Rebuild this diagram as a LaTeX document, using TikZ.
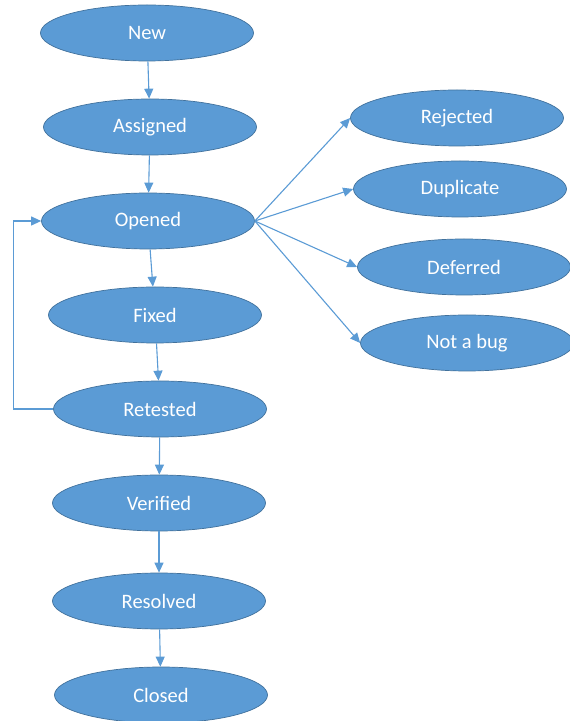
\documentclass[tikz,border=0pt]{standalone}
\usepackage{fontspec}
\setmainfont{Carlito}
\usepackage{xcolor}
\usetikzlibrary{shapes.geometric, arrows.meta, positioning}
\definecolor{stateblue}{HTML}{5B9BD5}
\definecolor{stateline}{HTML}{41719C}
\definecolor{flowblue}{HTML}{5B9BD5}

\begin{document}
\begin{tikzpicture}[x=1pt,y=1pt,auto,node distance=94pt,
                    state node/.style={ellipse,draw=stateline,line width=0.7pt,fill=stateblue,text=white,
                                       minimum width=213pt,minimum height=56pt,inner sep=0pt,
                                       font=\fontsize{20.5}{24}\selectfont},
                    flow/.style={-{Triangle[length=10pt,width=9pt]},color=flowblue,line width=1.1pt}]

  \useasboundingbox (0,0) rectangle (570,721);

  % main life cycle
  \node[state node] (new) at (147,688) {New};
  \node[state node] (assigned) [below of=new, xshift=3pt] {Assigned};
  \node[state node] (opened) [below of=assigned, xshift=-2pt] {Opened};
  \node[state node] (fixed) [below of=opened, xshift=7pt] {Fixed};
  \node[state node] (retested) [below of=fixed, xshift=5pt] {Retested};
  \node[state node] (verified) [below of=retested, xshift=-1pt] {Verified};
  \node[state node] (resolved) [below of=verified, node distance=98pt] {Resolved};
  \node[state node] (closed) [below of=resolved, xshift=2pt] {Closed};

  % side exits from Opened
  \node[state node] (rejected) at (457,603) {Rejected};
  \node[state node] (duplicate) [below of=rejected, node distance=71pt, xshift=3pt] {Duplicate};
  \node[state node] (deferred) [below of=duplicate, node distance=78pt, xshift=4pt] {Deferred};
  \node[state node] (notabug) [below of=deferred, node distance=76pt, xshift=3pt] {Not a bug};

  % straight down the chain
  \draw[flow] (new) -- (assigned);
  \draw[flow] (assigned) -- (opened);
  \draw[flow] (opened) -- (fixed);
  \draw[flow] (fixed) -- (retested);
  \draw[flow] (retested) -- (verified);
  \draw[flow] (verified) -- (resolved);
  \draw[flow] (resolved) -- (closed);

  % fan out to the side states
  \foreach \dest in {rejected,duplicate,deferred,notabug}
    \draw[flow] (opened.east) -- (\dest.west);

  % reopen loop
  \draw[flow] (retested.west) -- ++(-40pt,0) |- (opened.west);
\end{tikzpicture}
\end{document}
